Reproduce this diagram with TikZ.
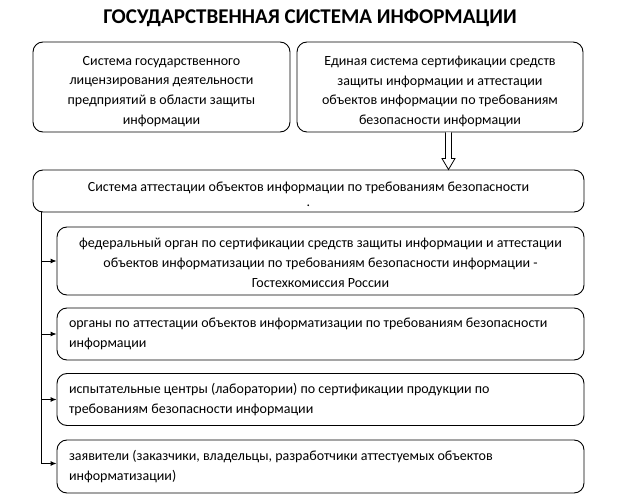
\documentclass[tikz,border=0pt]{standalone}
\usepackage{fontspec}
\setmainfont{Carlito}
\usetikzlibrary{arrows.meta}
\begin{document}
\begin{tikzpicture}[x=1pt,y=-1pt,
  frame/.style={draw, line width=0.9pt, rounded corners=10pt, inner sep=0pt},
  txt/.style={inner sep=0pt, align=center, font=\fontsize{14}{19.8}\selectfont},
  lbox/.style={frame, align=flush left, text width=503pt, minimum width=527pt,
    font=\fontsize{14}{19.8}\selectfont},
  link/.style={line width=0.9pt, -{Latex[length=6pt,width=5pt]}}]
\useasboundingbox (0,0) rectangle (621,494);
\node[font=\fontsize{21}{24}\selectfont\bfseries] (title) at (310,18) {ГОСУДАРСТВЕННАЯ СИСТЕМА ИНФОРМАЦИИ};
\node[frame, minimum width=257pt, minimum height=90pt] (A) at (161.5,87) {};
\node[txt] (At) at ([yshift=-4.5pt]A.center)
  {Система государственного\\лицензирования деятельности\\предприятий в области защиты\\информации};
\node[frame, minimum width=286pt, minimum height=90pt] (B) at (440,87) {};
\node[txt] (Bt) at ([yshift=-4.5pt]B.center)
  {Единая система сертификации средств\\защиты информации и аттестации\\объектов информации по требованиям\\безопасности информации};
\node[frame, minimum width=551pt, minimum height=42pt] (C) at (308.5,191) {};
\node[txt] (Ct) at ([yshift=-3.5pt]C.center)
  {Система аттестации объектов информации по требованиям безопасности\\[-4.5pt].};
\node[frame, minimum width=527pt, minimum height=68pt] (D) at (320.5,261) {};
\node[txt] (Dt) at ([yshift=-2pt]D.center)
  {федеральный орган по сертификации средств защиты информации и аттестации\\объектов информатизации по требованиям безопасности информации -\\Гостехкомиссия России};
\node[lbox, minimum height=52pt] (E) at (320.5,334)
  {органы по аттестации объектов информатизации по требованиям безопасности\\информации};
\node[lbox, minimum height=52pt] (F) at (320.5,399.5)
  {испытательные центры (лаборатории) по сертификации продукции по\\требованиям безопасности информации};
\node[lbox, minimum height=53pt] (G) at (320.5,466.5)
  {заявители (заказчики, владельцы, разработчики аттестуемых объектов\\информатизации)};
% hollow arrow from B to C
\coordinate (h1) at ([xshift=8.5pt]B.south);
\coordinate (h2) at (h1 |- C.north);
\draw[line width=0.8pt, fill=white]
  ([xshift=-3pt]h1) -- ([xshift=-3pt,yshift=11pt]h2) -- ([xshift=-6.5pt,yshift=11pt]h2)
  -- (h2) -- ([xshift=6.5pt,yshift=11pt]h2) -- ([xshift=3pt,yshift=11pt]h2) -- ([xshift=3pt]h1);
% spine
\coordinate (s0) at (C.south west -| 41,0);
\draw[line width=0.9pt] (s0) -- ([yshift=3pt]G.west -| s0);
\foreach \n in {D,E,F}
  \draw[link] (\n.west -| s0) -- (\n.west);
\draw[link] ([yshift=3pt]G.west -| s0) -- ([yshift=3pt]G.west);
\end{tikzpicture}
\end{document}
